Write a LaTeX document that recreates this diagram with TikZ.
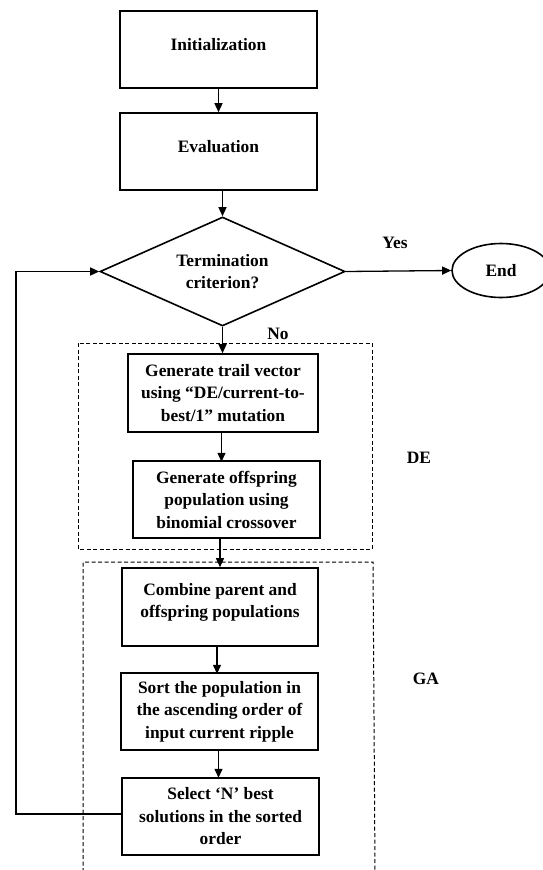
\documentclass[tikz,border=0pt]{standalone}
\usepackage{fontspec}
\setmainfont{Liberation Serif}
\usetikzlibrary{shapes.geometric,arrows.meta}
\begin{document}
\begin{tikzpicture}[x=1pt,y=-1pt,
  font=\fontsize{17.4}{22.5}\selectfont\bfseries,
  stepbox/.style={draw,line width=1.6pt,rectangle,inner sep=0pt,align=center,minimum width=#1},
  stepbox/.default=197pt,
  decide/.style={draw,line width=1.6pt,diamond,aspect=2.25,inner sep=0pt,align=center,minimum width=245pt,minimum height=109pt},
  term/.style={draw,line width=1.6pt,ellipse,inner sep=0pt,minimum width=98pt,minimum height=54pt},
  flow/.style={line width=1.3pt,-{Triangle[length=9pt,width=8pt]}},
  grp/.style={line width=1pt,dash pattern=on 4pt off 2.5pt},
  lbl/.style={inner sep=0pt}
]
\clip (0,0) rectangle (543,870);
\fill[white] (0,0) rectangle (543,870);

\node[stepbox,minimum height=77pt] (init) at (218.5,49.5) {Initialization\\[-12pt]~};
\node[stepbox,minimum height=77pt] (eval) at (218.5,151.5) {Evaluation\\[-12pt]~};
\node[decide] (dia) at (222.5,271.5) {Termination\\criterion?};
\node[term] (end) at (501,270.5) {End};

\node[stepbox=190pt,minimum height=78pt] (trail) at (223,393) {Generate trail vector\\using “DE/current-to-\\best/1” mutation};
\node[stepbox=187pt,minimum height=77pt] (offs) at (226.5,499.5) {Generate offspring\\population using\\binomial crossover};

\node[stepbox=196pt,minimum height=78pt] (comb) at (220,607) {Combine parent and\\offspring populations\\[-9pt]~};
\node[stepbox,minimum height=77pt] (sort) at (219.5,711.5) {Sort the population in\\the ascending order of\\input current ripple};
\node[stepbox,minimum height=77pt] (sel) at (220.5,816.5) {Select ‘N’ best\\solutions in the sorted\\order};

\node[lbl] (yes) at (395,243) {Yes};
\node[lbl] (no) at (278,334) {No};
\node[lbl] (de) at (419,458) {DE};
\node[lbl] (ga) at (426,679) {GA};

% group frames
\draw[grp] (78,343) rectangle (372,549);
\draw[grp] (83,872) -- (83,562) -- (373,562) -- (375,872);

% connectors
\draw[flow] (init.south) -- (eval.north);
\draw[flow] (dia.north |- eval.south) -- (dia.north);
\draw[flow] (dia.east) -- (end.west);
\draw[flow] (dia.south) -- (dia.south |- trail.north);
\draw[flow] (trail.south -| offs.north) ++(-5,0) -- ++(0,29);
\draw[flow] (comb.north |- offs.south) -- (comb.north);
\draw[flow] (comb.south) ++(-3,0) -- ++(0,27);
\draw[flow] (sort.south) ++(-1,0) -- ++(0,27);
\coordinate (lb) at (16,814);
\coordinate (lt) at (16,271.5);
\draw[flow] (sel.west |- lb) -- (lb) -- (lt) -- (dia.west);
\end{tikzpicture}
\end{document}
